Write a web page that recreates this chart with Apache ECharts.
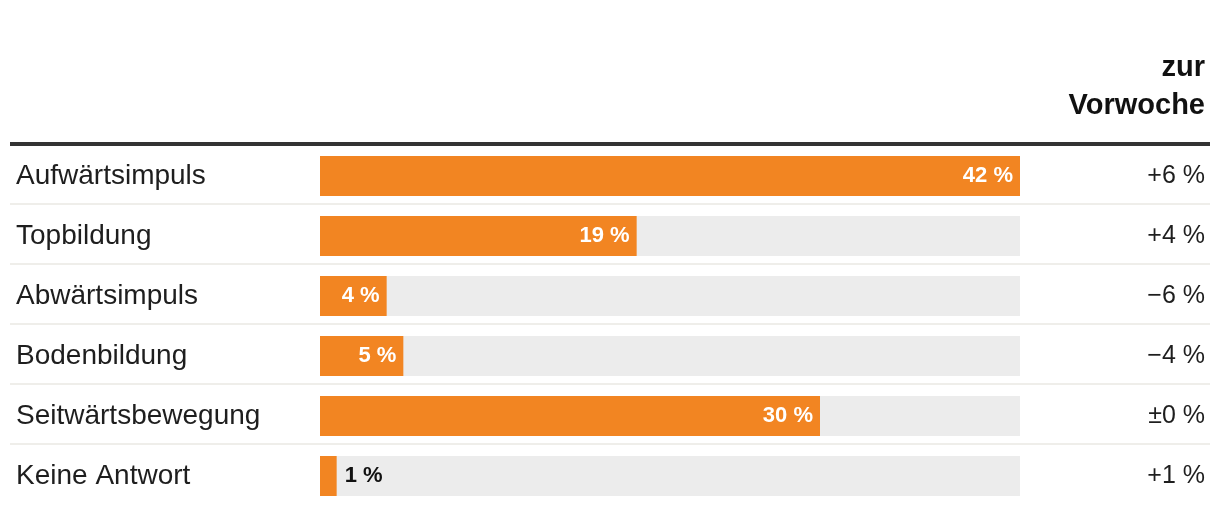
<!DOCTYPE html>
<html><head><meta charset="utf-8">
<script src="https://cdn.jsdelivr.net/npm/echarts@6/dist/echarts.min.js"></script>
<style>html,body{margin:0;padding:0;background:#fff}#c{width:1220px;height:514px}</style>
</head><body><div id="c"></div>
<script>
const categories = ['Aufwärtsimpuls','Topbildung','Abwärtsimpuls','Bodenbildung','Seitwärtsbewegung','Keine Antwort'];
const shares = [42, 19, 4, 5, 30, 1];
const changes = ['+6 %', '+4 %', '−6 %', '−4 %', '±0 %', '+1 %'];
const headerLines = ['zur', 'Vorwoche'];

const FONT = '"Liberation Sans", Arial, sans-serif';
const chart = echarts.init(document.getElementById('c'), null, {renderer: 'canvas'});

const barData = shares.map(v => ({
  value: v,
  label: v < 3
    ? {position: 'right', color: '#111', distance: 8}
    : {position: 'insideRight', color: '#fff', distance: 7}
}));

chart.setOption({
  animation: false,
  backgroundColor: '#fff',
  grid: {left: 320, right: 200, top: 146, height: 360, containLabel: false},
  xAxis: {type: 'value', min: 0, max: Math.max(...shares), show: false},
  yAxis: [
    {type: 'category', inverse: true, data: categories,
     axisLine: {show: false}, axisTick: {show: false}, splitLine: {show: false},
     axisLabel: {align: 'left', margin: 304, fontSize: 28, color: '#1e1e1e', fontFamily: FONT,
       padding: [3, 0, 0, 0]}},
    {type: 'category', inverse: true, data: changes, position: 'right',
     axisLine: {show: false}, axisTick: {show: false}, splitLine: {show: false},
     axisLabel: {align: 'right', margin: 185, fontSize: 25, color: '#1e1e1e', fontFamily: FONT,
       padding: [2, 0, 0, 0]}}
  ],
  graphic: [{
    type: 'text', right: 15, top: 49,
    style: {text: headerLines.join('\n'), font: 'bold 29px ' + FONT, fill: '#111',
      textAlign: 'right', lineHeight: 38}
  }],
  series: [
    {type: 'custom', yAxisIndex: 0, silent: true, z: 1,
     data: categories.map((c, i) => [0, i]),
     renderItem: (params, api) => {
       const idx = api.value(1);
       const cs = params.coordSys;
       const band = api.size([0, 1])[1];
       const yc = api.coord([0, idx])[1];
       const children = [];
       if (idx < categories.length - 1) {
         children.push({type: 'rect', shape: {x: cs.x - 310, y: yc + band / 2 - 3, width: cs.width + 500, height: 2},
           style: {fill: '#efeeea'}});
       }
       if (idx === 0) {
         children.push({type: 'rect', shape: {x: cs.x - 310, y: yc - band / 2 - 4, width: cs.width + 500, height: 4},
           style: {fill: '#333'}});
       }
       return {type: 'group', children};
     }},
    {type: 'bar', yAxisIndex: 0, data: barData, barWidth: 40, z: 2,
     itemStyle: {color: '#f28522'},
     showBackground: true, backgroundStyle: {color: '#ececec'},
     label: {show: true, formatter: p => p.value + ' %', fontSize: 22, fontWeight: 'bold', fontFamily: FONT}}
  ]
});
</script>
</body></html>
